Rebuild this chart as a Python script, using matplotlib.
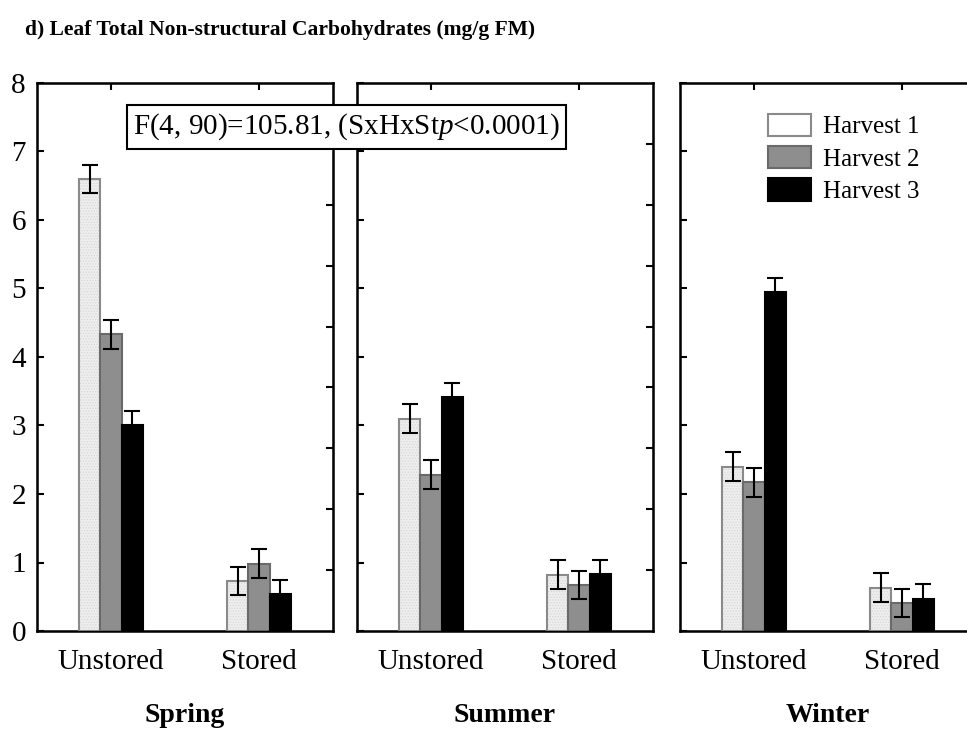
import numpy as np
import matplotlib
matplotlib.use("Agg")
import matplotlib.pyplot as plt

plt.rcParams["font.family"] = ["Liberation Serif", "DejaVu Serif"]
plt.rcParams["mathtext.fontset"] = "custom"
plt.rcParams["mathtext.it"] = "Liberation Serif:italic"
plt.rcParams["mathtext.rm"] = "Liberation Serif"

# data (mg/g FM)
seasons = ["Spring", "Summer", "Winter"]
storage = ["Unstored", "Stored"]
harvests = ["Harvest 1", "Harvest 2", "Harvest 3"]

# values for (Unstored, Stored)
spring_h1 = [6.60, 0.73]
spring_h2 = [4.33, 0.98]
spring_h3 = [3.00, 0.54]
summer_h1 = [3.10, 0.82]
summer_h2 = [2.28, 0.67]
summer_h3 = [3.41, 0.83]
winter_h1 = [2.40, 0.63]
winter_h2 = [2.17, 0.41]
winter_h3 = [4.95, 0.47]
std_err = 0.21

means = [
    [spring_h1, spring_h2, spring_h3],
    [summer_h1, summer_h2, summer_h3],
    [winter_h1, winter_h2, winter_h3],
]

face_cols = ["#eeeeee", "#8e8e8e", "#000000"]
edge_cols = ["#8a8a8a", "#6a6a6a", "#000000"]

W, H = 967, 731
fig = plt.figure(figsize=(W / 100, H / 100), dpi=100)

lefts = [37, 357, 680]
ax_w = 296
ax_b = H - 631
ax_h = 548

x = np.arange(len(storage))
bw = 0.145
plt.rcParams["hatch.linewidth"] = 0.6

for k, season in enumerate(seasons):
    ax = fig.add_axes([lefts[k] / W, ax_b / H, ax_w / W, ax_h / H])
    for j in range(3):
        xs = x + (j - 1) * bw
        vals = means[k][j]
        if j == 0:
            ax.bar(xs, vals, bw, color=face_cols[j], edgecolor="#d6d6d6",
                   hatch="......", linewidth=0, zorder=2)
            ax.bar(xs, vals, bw, color="none", edgecolor=edge_cols[j],
                   linewidth=1.5, zorder=3, label=harvests[j])
        else:
            ax.bar(xs, vals, bw, color=face_cols[j], edgecolor=edge_cols[j],
                   linewidth=1.5, zorder=3, label=harvests[j])
        ax.errorbar(xs, vals, yerr=std_err, fmt="none", ecolor="black",
                    elinewidth=1.5, capsize=5.5, capthick=1.5, zorder=4)

    ax.set_xlim(-0.5, 1.5)
    ax.set_ylim(0, 8)
    ax.set_xticks(x)
    ax.set_xticklabels(storage, fontsize=21)
    ax.set_yticks(range(0, 9))
    ax.tick_params(axis="both", direction="in", length=5, width=1.5,
                   top=True)
    ax.tick_params(axis="x", pad=13)
    if k == 0:
        ax.tick_params(axis="y", labelsize=21, pad=8)
    else:
        ax.set_yticklabels([])
    for s in ax.spines.values():
        s.set_linewidth(1.8)

    # right spine ticks (secondary scale, unlabeled)
    ax2 = ax.twinx()
    ax2.set_ylim(0, 9)
    ax2.set_yticks(range(1, 9))
    ax2.set_yticklabels([])
    ax2.tick_params(axis="y", direction="in", length=5, width=1.5)

    ax.text(0.5, -0.155, season, transform=ax.transAxes, ha="center",
            va="center", fontsize=20, fontweight="bold")

    if k == 2:
        ax.legend(loc="upper left", bbox_to_anchor=(0.22, 0.985), frameon=False,
                  fontsize=18, handlelength=1.75, handleheight=1.0,
                  labelspacing=0.3, handletextpad=0.45)

fig.text(133 / W, 1 - 127 / H, "F(4, 90)=105.81, (SxHxSt$\\it{p}$<0.0001)",
         fontsize=21, va="center", ha="left", zorder=10,
         bbox=dict(boxstyle="square,pad=0.22", fc="white", ec="black", lw=1.5))

fig.text(25 / W, 1 - 30 / H, "d) Leaf Total Non-structural Carbohydrates (mg/g FM)",
         fontsize=15.5, fontweight="bold", va="center", ha="left")

fig.savefig("out.png", dpi=100)
